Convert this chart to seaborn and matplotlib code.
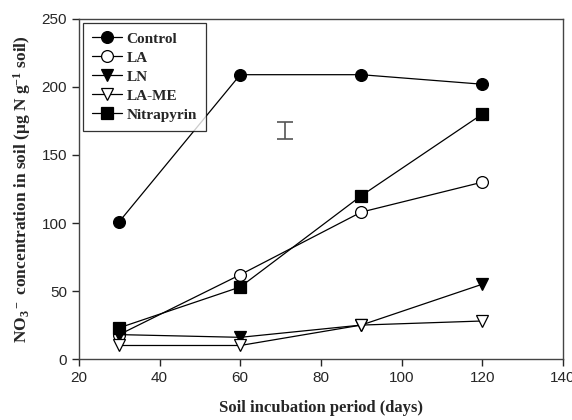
import pandas as pd
import numpy as np
import matplotlib
matplotlib.use("Agg")
import matplotlib.pyplot as plt
import seaborn as sns

# data
days = [30, 60, 90, 120]
control = [101, 209, 209, 202]
la = [18, 62, 108, 130]
ln = [18, 16, 25, 55]
la_me = [10, 10, 25, 28]
nitrapyrin = [23, 53, 120, 180]

series_names = ["Control", "LA", "LN", "LA-ME", "Nitrapyrin"]
series_vals = [control, la, ln, la_me, nitrapyrin]
markers = ["o", "o", "v", "v", "s"]
faces = ["black", "white", "black", "white", "black"]

# LSD bar
lsd_x = 71
lsd_center = 168
lsd_half = 6

sns.set_style("ticks")
plt.rcParams["font.family"] = ["Liberation Sans", "DejaVu Sans"]
plt.rcParams["mathtext.fontset"] = "custom"
plt.rcParams["mathtext.rm"] = "Liberation Serif:bold"
plt.rcParams["mathtext.it"] = "Liberation Serif:bold"
plt.rcParams["mathtext.bf"] = "Liberation Serif:bold"
plt.rcParams["mathtext.default"] = "bf"

fig = plt.figure(figsize=(5.72, 4.2), dpi=100)
ax = fig.add_axes([0.138, 0.145, 0.846, 0.81])

for name, vals, m, fc in zip(series_names, series_vals, markers, faces):
    df = pd.DataFrame({"days": days, "no3": vals})
    sns.lineplot(data=df, x="days", y="no3", ax=ax, color="black", lw=0.9,
                 marker=m, markersize=8.5, markerfacecolor=fc,
                 markeredgecolor="black", markeredgewidth=0.9, label=name)

ax.errorbar([lsd_x], [lsd_center], yerr=[lsd_half], fmt="none",
            ecolor="#555555", elinewidth=1.2, capsize=5.5, capthick=1.2)

ax.set_xlim(20, 140)
ax.set_ylim(0, 250)
ax.set_xticks(np.arange(20, 141, 20))
ax.set_yticks(np.arange(0, 251, 50))
ax.tick_params(direction="out", length=5, width=1, labelsize=11)
for s in ax.spines.values():
    s.set_linewidth(1)
    s.set_color("#444444")

serif = ["Liberation Serif", "DejaVu Serif"]
ax.set_xlabel("Soil incubation period (days)", fontsize=12, fontweight="bold",
              family=serif, labelpad=11)
ax.set_ylabel(r"NO$_3$$^-$ concentration in soil ($\mu$g N g$^{-1}$ soil)",
              fontsize=12.5, fontweight="bold", family=serif, labelpad=6)

leg = ax.legend(loc="upper left", bbox_to_anchor=(0.0, 1.0), frameon=True,
                fancybox=False, edgecolor="black", borderpad=0.6,
                borderaxespad=0.25, handlelength=2.0, labelspacing=0.35,
                handletextpad=0.25,
                prop={"family": serif, "weight": "bold", "size": 11})
leg.get_frame().set_linewidth(0.9)

fig.savefig("out.png", dpi=100)
